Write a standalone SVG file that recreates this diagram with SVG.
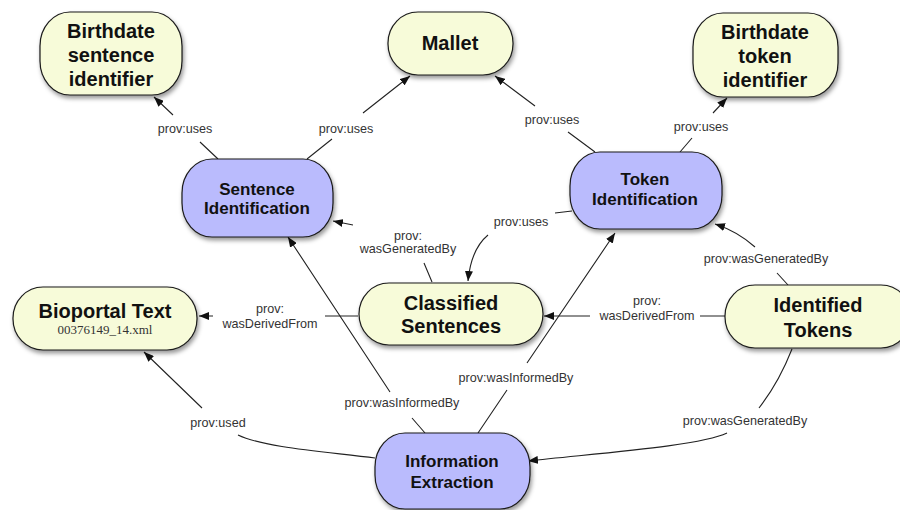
<svg xmlns="http://www.w3.org/2000/svg" width="900" height="510" viewBox="0 0 900 510">
<style>
.node{stroke:#1a1a1a;stroke-width:1.2}
.ent{fill:#f7fbd9}
.act{fill:#babbfd}
.t{font-family:"Liberation Sans",Arial,Helvetica,sans-serif;font-weight:bold;fill:#111;text-anchor:middle}
.big{font-size:20px}
.mid{font-size:17px}
.sub{font-family:"Liberation Serif","Times New Roman",serif;font-size:13px;fill:#333;text-anchor:middle}
.lbl{font-family:"Liberation Sans",Arial,Helvetica,sans-serif;font-size:12.6px;fill:#333;text-anchor:middle}
.edge{fill:none;stroke:#222;stroke-width:1.1}
</style>
<defs>
<filter id="sh" x="-20%" y="-20%" width="140%" height="150%">
<feDropShadow dx="1.5" dy="3" stdDeviation="2" flood-color="#000" flood-opacity="0.4"/>
</filter>
<marker id="arr" viewBox="0 0 10 8" refX="10" refY="4" markerWidth="10" markerHeight="8" markerUnits="userSpaceOnUse" orient="auto">
<path d="M0,0 L10,4 L0,8 z" fill="#111"/>
</marker>
</defs>
<rect width="900" height="510" fill="#ffffff"/>

<g id="connectors">
<path class="edge" marker-end="url(#arr)" d="M218,159 L200,142 M173,115 L154,97"/>
<text class="lbl" x="185" y="133">prov:uses</text>
<path class="edge" marker-end="url(#arr)" d="M307,159 L332,139 M363,113 L410,76"/>
<text class="lbl" x="346" y="133">prov:uses</text>
<path class="edge" marker-end="url(#arr)" d="M595,152 L568,132 M535,106 L495,76"/>
<text class="lbl" x="552" y="124">prov:uses</text>
<path class="edge" marker-end="url(#arr)" d="M680,152 L692,138 M713,113 L727,98"/>
<text class="lbl" x="701" y="131">prov:uses</text>
<path class="edge" marker-end="url(#arr)" d="M572,211 L555,213 M488,235 C476,245 470,260 468,281"/>
<text class="lbl" x="521" y="226">prov:uses</text>
<path class="edge" marker-end="url(#arr)" d="M432,282 L424,263 M353,225 L333,221"/>
<text class="lbl" x="408" y="240">prov:</text>
<text class="lbl" x="408" y="253">wasGeneratedBy</text>
<path class="edge" marker-end="url(#arr)" d="M358,316 L325,316 M213,316 L199,316"/>
<text class="lbl" x="270" y="313">prov:</text>
<text class="lbl" x="270" y="328">wasDerivedFrom</text>
<path class="edge" marker-end="url(#arr)" d="M725,316 L700,316 M590,316 L544,316"/>
<text class="lbl" x="647" y="305">prov:</text>
<text class="lbl" x="647" y="320">wasDerivedFrom</text>
<path class="edge" marker-end="url(#arr)" d="M788,285 L777,273 M755,247 C745,238 730,229 715,224"/>
<text class="lbl" x="766" y="263">prov:wasGeneratedBy</text>
<path class="edge" marker-end="url(#arr)" d="M792,349 C783,372 773,390 759,408 M727,433 C700,446 600,453 528,461"/>
<text class="lbl" x="745" y="425">prov:wasGeneratedBy</text>
<path class="edge" marker-end="url(#arr)" d="M375,458 C330,452 265,448 238,435 M202,408 L144,352"/>
<text class="lbl" x="218" y="427">prov:used</text>
<path class="edge" marker-end="url(#arr)" d="M425,433 L412,418 M390,392 L288,237"/>
<text class="lbl" x="402" y="407">prov:wasInformedBy</text>
<path class="edge" marker-end="url(#arr)" d="M478,433 L507,390 M527,363 L615,233"/>
<text class="lbl" x="516" y="382">prov:wasInformedBy</text>
</g>

<g id="birthdate-sentence-identifier">
<rect class="node ent" filter="url(#sh)" x="40" y="12" width="142" height="83" rx="30" ry="34"/>
<text class="t big" x="111" y="38">Birthdate</text>
<text class="t big" x="111" y="62">sentence</text>
<text class="t big" x="111" y="86">identifier</text>
</g>

<g id="mallet">
<rect class="node ent" filter="url(#sh)" x="388" y="12" width="125" height="63" rx="30" ry="31"/>
<text class="t big" x="450" y="50">Mallet</text>
</g>

<g id="birthdate-token-identifier">
<rect class="node ent" filter="url(#sh)" x="693" y="13" width="145" height="84" rx="30" ry="34"/>
<text class="t big" x="765" y="39">Birthdate</text>
<text class="t big" x="765" y="63">token</text>
<text class="t big" x="765" y="87">identifier</text>
</g>

<g id="sentence-identification">
<rect class="node act" filter="url(#sh)" x="182" y="159" width="151" height="78" rx="30" ry="34"/>
<text class="t mid" x="257" y="195">Sentence</text>
<text class="t mid" x="257" y="214">Identification</text>
</g>

<g id="token-identification">
<rect class="node act" filter="url(#sh)" x="570" y="152" width="152" height="77" rx="30" ry="34"/>
<text class="t mid" x="645" y="185">Token</text>
<text class="t mid" x="645" y="205">Identification</text>
</g>

<g id="bioportal-text">
<rect class="node ent" filter="url(#sh)" x="13" y="287" width="184" height="63" rx="30" ry="31"/>
<text class="t big" x="105" y="318">Bioportal Text</text>
<text class="sub" x="105" y="334">00376149_14.xml</text>
</g>

<g id="classified-sentences">
<rect class="node ent" filter="url(#sh)" x="359" y="283" width="184" height="62" rx="30" ry="31"/>
<text class="t big" x="451" y="310">Classified</text>
<text class="t big" x="451" y="333">Sentences</text>
</g>

<g id="identified-tokens">
<rect class="node ent" filter="url(#sh)" x="725" y="285" width="186" height="63" rx="30" ry="31"/>
<text class="t big" x="818" y="312">Identified</text>
<text class="t big" x="818" y="337">Tokens</text>
</g>

<g id="information-extraction">
<rect class="node act" filter="url(#sh)" x="375" y="433" width="155" height="76" rx="30" ry="34"/>
<text class="t mid" x="452" y="467">Information</text>
<text class="t mid" x="452" y="488">Extraction</text>
</g>
</svg>
